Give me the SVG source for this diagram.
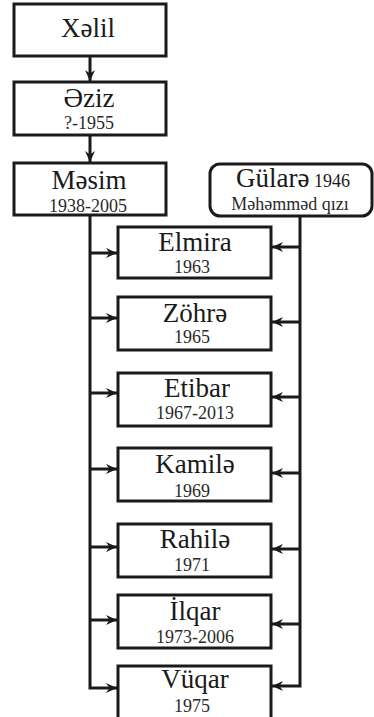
<svg xmlns="http://www.w3.org/2000/svg" width="374" height="717" viewBox="0 0 374 717">
<defs>
<style>
.box{fill:#fff;stroke:#1a1a1a;stroke-width:3}
.ln{fill:none;stroke:#1a1a1a;stroke-width:3}
.nm{font-family:"Liberation Serif","Times New Roman",serif;font-size:27px;fill:#1a1a1a;text-anchor:middle}
.yr{font-family:"Liberation Serif","Times New Roman",serif;font-size:18px;fill:#2a2a2a;text-anchor:middle}
</style>
<marker id="ah" markerUnits="userSpaceOnUse" markerWidth="12" markerHeight="10" refX="11" refY="5" orient="auto">
<path d="M0,0 L11,5 L0,10 L3.5,5 z" fill="#1a1a1a"/>
</marker>
</defs>
<rect width="374" height="717" fill="#fff"/>
<g id="connectors">
<line class="ln" x1="90" y1="56" x2="90" y2="81" marker-end="url(#ah)"/>
<line class="ln" x1="90" y1="135" x2="90" y2="162" marker-end="url(#ah)"/>
<path class="ln" d="M90,215 V688 H117" marker-end="url(#ah)"/>
<line class="ln" x1="90" y1="253" x2="117" y2="253" marker-end="url(#ah)"/>
<line class="ln" x1="90" y1="318" x2="117" y2="318" marker-end="url(#ah)"/>
<line class="ln" x1="90" y1="393" x2="117" y2="393" marker-end="url(#ah)"/>
<line class="ln" x1="90" y1="469" x2="117" y2="469" marker-end="url(#ah)"/>
<line class="ln" x1="90" y1="547" x2="117" y2="547" marker-end="url(#ah)"/>
<line class="ln" x1="90" y1="620" x2="117" y2="620" marker-end="url(#ah)"/>
<path class="ln" d="M300,217 V686 H272" marker-end="url(#ah)"/>
<line class="ln" x1="300" y1="247" x2="272" y2="247" marker-end="url(#ah)"/>
<line class="ln" x1="300" y1="322" x2="272" y2="322" marker-end="url(#ah)"/>
<line class="ln" x1="300" y1="397" x2="272" y2="397" marker-end="url(#ah)"/>
<line class="ln" x1="300" y1="473" x2="272" y2="473" marker-end="url(#ah)"/>
<line class="ln" x1="300" y1="549" x2="272" y2="549" marker-end="url(#ah)"/>
<line class="ln" x1="300" y1="624" x2="272" y2="624" marker-end="url(#ah)"/>
</g>
<g id="xelil"><rect class="box" x="14" y="4" width="152" height="52"/><text class="nm" x="88" y="37">Xəlil</text></g>
<g id="eziz"><rect class="box" x="14" y="82" width="152" height="53"/><text class="nm" x="89" y="107">Əziz</text><text class="yr" x="89" y="129">?-1955</text></g>
<g id="mesim"><rect class="box" x="14" y="163" width="152" height="52"/><text class="nm" x="89" y="189">Məsim</text><text class="yr" x="88" y="212">1938-2005</text></g>
<g id="gulare"><rect class="box" x="210" y="164" width="162" height="52" rx="10"/><text class="nm" x="293" y="187">Gülarə<tspan style="font-size:18px"> 1946</tspan></text><text class="yr" x="290" y="210">Məhəmməd qızı</text></g>
<g id="elmira"><rect class="box" x="118" y="227" width="153" height="51"/><text class="nm" x="195" y="251">Elmira</text><text class="yr" x="192" y="273">1963</text></g>
<g id="zohre"><rect class="box" x="118" y="297" width="153" height="53"/><text class="nm" x="195" y="322">Zöhrə</text><text class="yr" x="192" y="343">1965</text></g>
<g id="etibar"><rect class="box" x="118" y="373" width="153" height="53"/><text class="nm" x="197" y="397">Etibar</text><text class="yr" x="195" y="419">1967-2013</text></g>
<g id="kamile"><rect class="box" x="118" y="448" width="153" height="53"/><text class="nm" x="195" y="473">Kamilə</text><text class="yr" x="192" y="497">1969</text></g>
<g id="rahile"><rect class="box" x="118" y="524" width="153" height="53"/><text class="nm" x="195" y="548">Rahilə</text><text class="yr" x="192" y="571">1971</text></g>
<g id="ilqar"><rect class="box" x="118" y="595" width="153" height="53"/><text class="nm" x="195" y="620">İlqar</text><text class="yr" x="195" y="643">1973-2006</text></g>
<g id="vuqar"><rect class="box" x="118" y="666" width="153" height="60"/><text class="nm" x="195" y="688">Vüqar</text><text class="yr" x="192" y="712">1975</text></g>
</svg>
